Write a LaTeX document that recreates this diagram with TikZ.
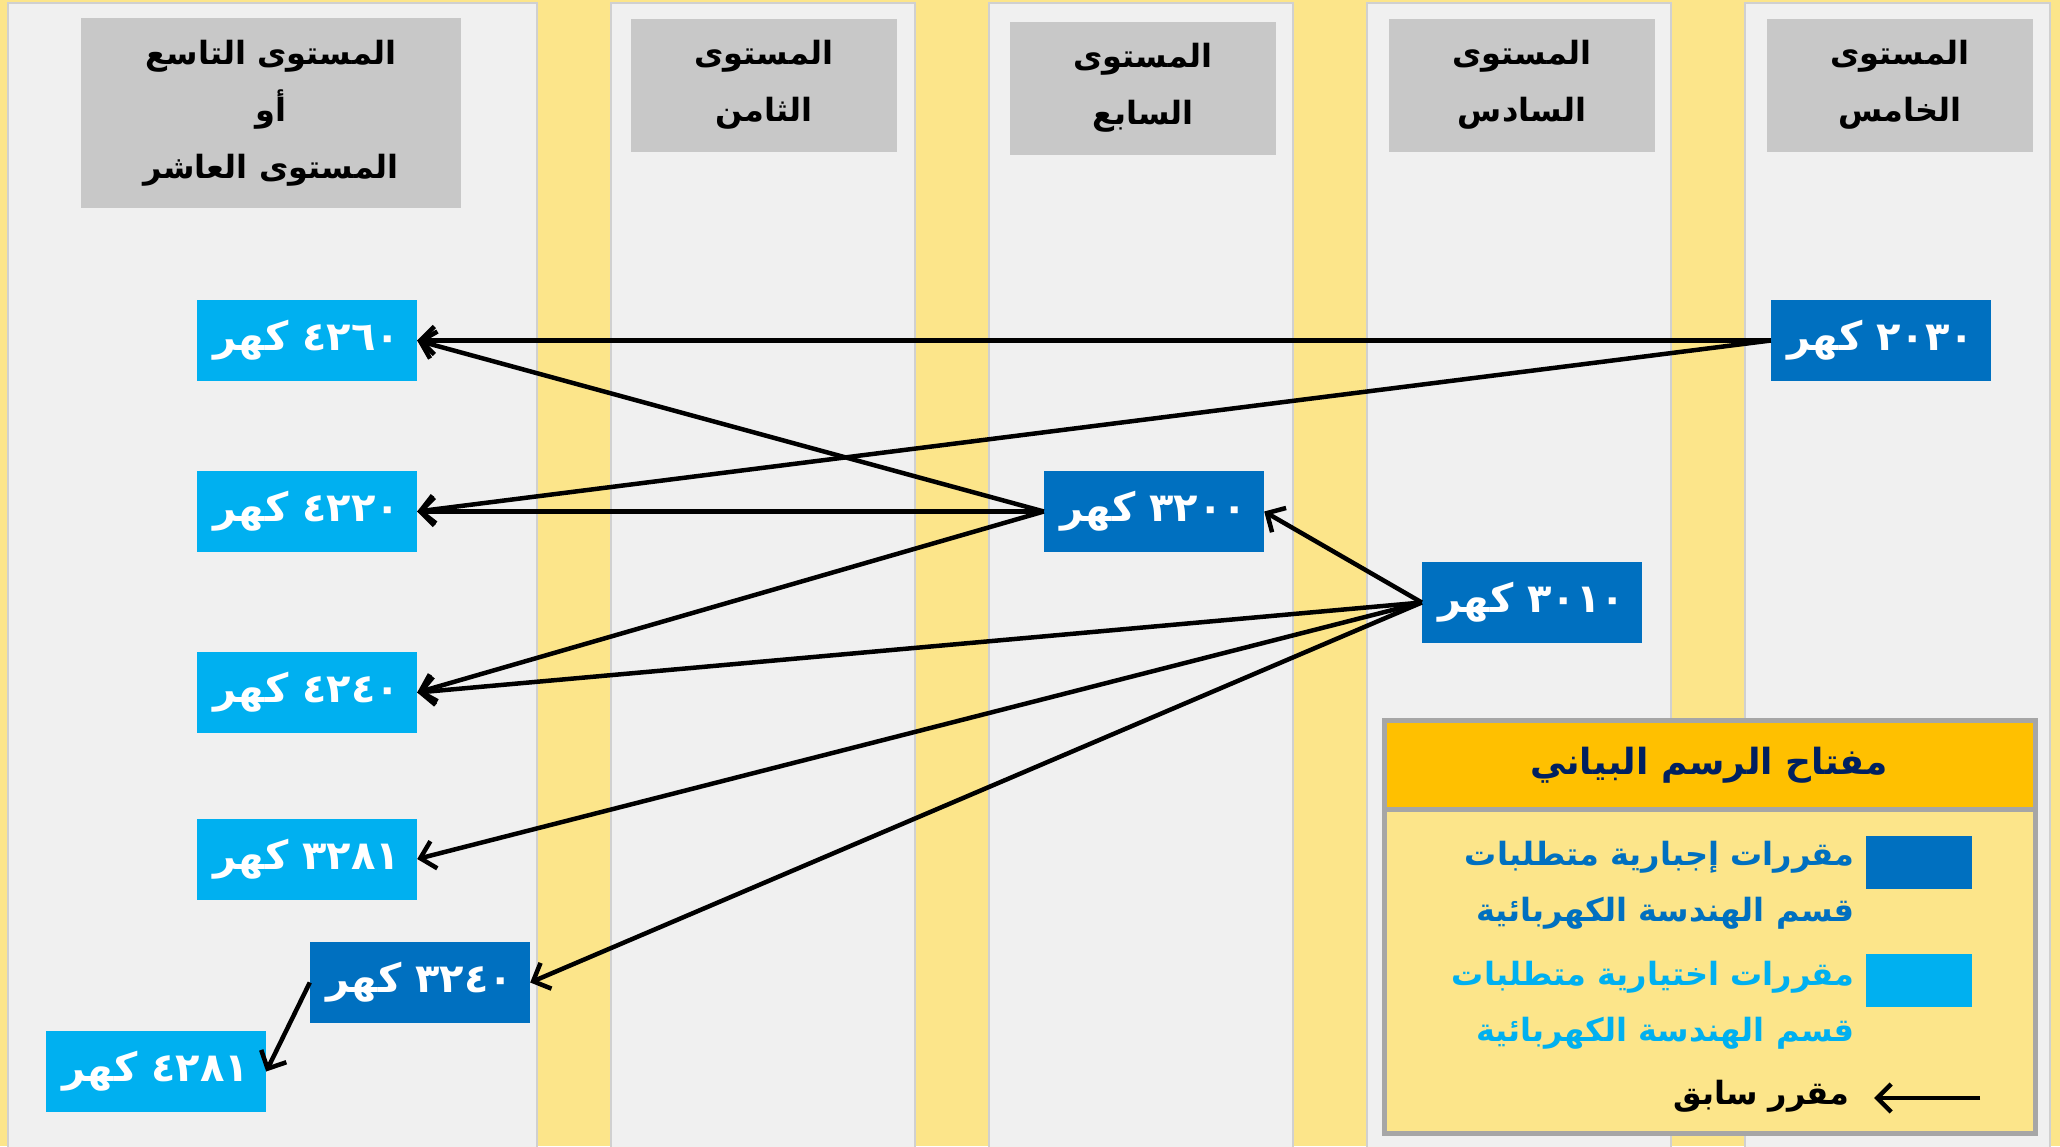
\documentclass[tikz,border=0pt]{standalone}
\usepackage{fontspec}
\usetikzlibrary{arrows.meta}
\TeXXeTstate=1
\newfontfamily\arabicfont[Script=Arabic]{DejaVu Sans}
\definecolor{bgyellow}{HTML}{FCE58A}
\definecolor{panelgray}{HTML}{F0F0F0}
\definecolor{panelline}{HTML}{D0D0D0}
\definecolor{hdrgray}{HTML}{C8C8C8}
\definecolor{cdark}{HTML}{0070C0}
\definecolor{clight}{HTML}{00B0F0}
\definecolor{corange}{HTML}{FFC000}
\definecolor{cnavy}{HTML}{002060}
\definecolor{legline}{HTML}{A6A6A6}
\begin{document}
\begin{tikzpicture}[x=1pt,y=-1pt,
  panel/.style={fill=panelgray,draw=panelline,line width=1.5pt},
  hdr/.style={fill=hdrgray,inner sep=0pt,align=center,
    font=\arabicfont\bfseries\fontsize{32}{57}\selectfont},
  course/.style={minimum width=220pt,minimum height=81pt,inner sep=0pt,text=white,
    font=\arabicfont\bfseries\fontsize{40}{46}\selectfont},
  darkc/.style={course,fill=cdark},
  lightc/.style={course,fill=clight},
  arr/.style={line width=4.5pt,-{Straight Barb[length=14pt,width=28pt]}},
  legtxt/.style={inner sep=0pt,align=right,font=\arabicfont\bfseries\fontsize{32}{56}\selectfont}
]
\useasboundingbox (0,0) rectangle (2060,1146);
\clip (0,0) rectangle (2060,1146);
\fill[bgyellow] (0,0) rectangle (2060,1146);
% panels
\filldraw[panel] (8,3) rectangle (537,1160);
\filldraw[panel] (611,3) rectangle (915,1160);
\filldraw[panel] (989,3) rectangle (1293,1160);
\filldraw[panel] (1367,3) rectangle (1671,1160);
\filldraw[panel] (1745,3) rectangle (2050,1160);
% headers
\node[hdr,minimum width=380pt,minimum height=190pt] (h1) at (271,113)
  {\beginR المستوى التاسع\endR\\ \beginR أو\endR\\ \beginR المستوى العاشر\endR};
\node[hdr,minimum width=266pt,minimum height=133pt] (h2) at (764,85)
  {\beginR المستوى\endR\\ \beginR الثامن\endR};
\node[hdr,minimum width=266pt,minimum height=133pt] (h3) at (1143,88)
  {\beginR المستوى\endR\\ \beginR السابع\endR};
\node[hdr,minimum width=266pt,minimum height=133pt] (h4) at (1522,85)
  {\beginR المستوى\endR\\ \beginR السادس\endR};
\node[hdr,minimum width=266pt,minimum height=133pt] (h5) at (1900,85)
  {\beginR المستوى\endR\\ \beginR الخامس\endR};
% courses
\node[lightc] (c4260) at (307,340.5) {\beginR ٤٢٦٠ كهر\endR};
\node[lightc] (c4220) at (307,511.5) {\beginR ٤٢٢٠ كهر\endR};
\node[lightc] (c4240) at (307,692.5) {\beginR ٤٢٤٠ كهر\endR};
\node[lightc] (c3281) at (307,859) {\beginR ٣٢٨١ كهر\endR};
\node[darkc] (c3240) at (420,982.5) {\beginR ٣٢٤٠ كهر\endR};
\node[lightc] (c4281) at (156,1071.5) {\beginR ٤٢٨١ كهر\endR};
\node[darkc] (c3200) at (1154,511.5) {\beginR ٣٢٠٠ كهر\endR};
\node[darkc] (c3010) at (1532,602.5) {\beginR ٣٠١٠ كهر\endR};
\node[darkc] (c2030) at (1881,340.5) {\beginR ٢٠٣٠ كهر\endR};
% arrows
\draw[arr] (c2030.west) -- (c4260.east);
\draw[arr] (c2030.west) -- (c4220.east);
\draw[arr] (c3200.west) -- (c4260.east);
\draw[arr] (c3200.west) -- (c4220.east);
\draw[arr] (c3200.west) -- (c4240.east);
\draw[arr] (c3010.west) -- (c3200.east);
\draw[arr] (c3010.west) -- (c4240.east);
\draw[arr] (c3010.west) -- (c3281.east);
\draw[arr] (c3010.west) -- (c3240.east);
\draw[arr] (c3240.west) -- (c4281.east);
% legend
\fill[bgyellow] (1384,720) rectangle (2035,1133);
\fill[corange] (1384,720) rectangle (2035,809);
\draw[legline,line width=5pt] (1384,809) -- (2035,809);
\draw[legline,line width=5pt] (1384,720) rectangle (2035,1133);
\node[inner sep=0pt,text=cnavy,font=\arabicfont\bfseries\fontsize{36}{42}\selectfont] (ltitle) at (1709,765)
  {\beginR مفتاح الرسم البياني\endR};
\node[fill=cdark,minimum width=106pt,minimum height=53pt,inner sep=0pt] (sw1) at (1919,862.5) {};
\node[fill=clight,minimum width=106pt,minimum height=53pt,inner sep=0pt] (sw2) at (1919,980.5) {};
\node[legtxt,text=cdark,anchor=east] (lt1) at (1855,885)
  {\beginR مقررات إجبارية متطلبات\endR\\ \beginR قسم الهندسة الكهربائية\endR};
\node[legtxt,text=clight,anchor=east] (lt2) at (1855,1005)
  {\beginR مقررات اختيارية متطلبات\endR\\ \beginR قسم الهندسة الكهربائية\endR};
\node[legtxt,text=black,anchor=east] (lt3) at (1850,1096) {\beginR مقرر سابق\endR};
\coordinate (la1) at (1980,1098);
\coordinate (la2) at (1874,1098);
\draw[arr] (la1) -- (la2);
\end{tikzpicture}
\end{document}
